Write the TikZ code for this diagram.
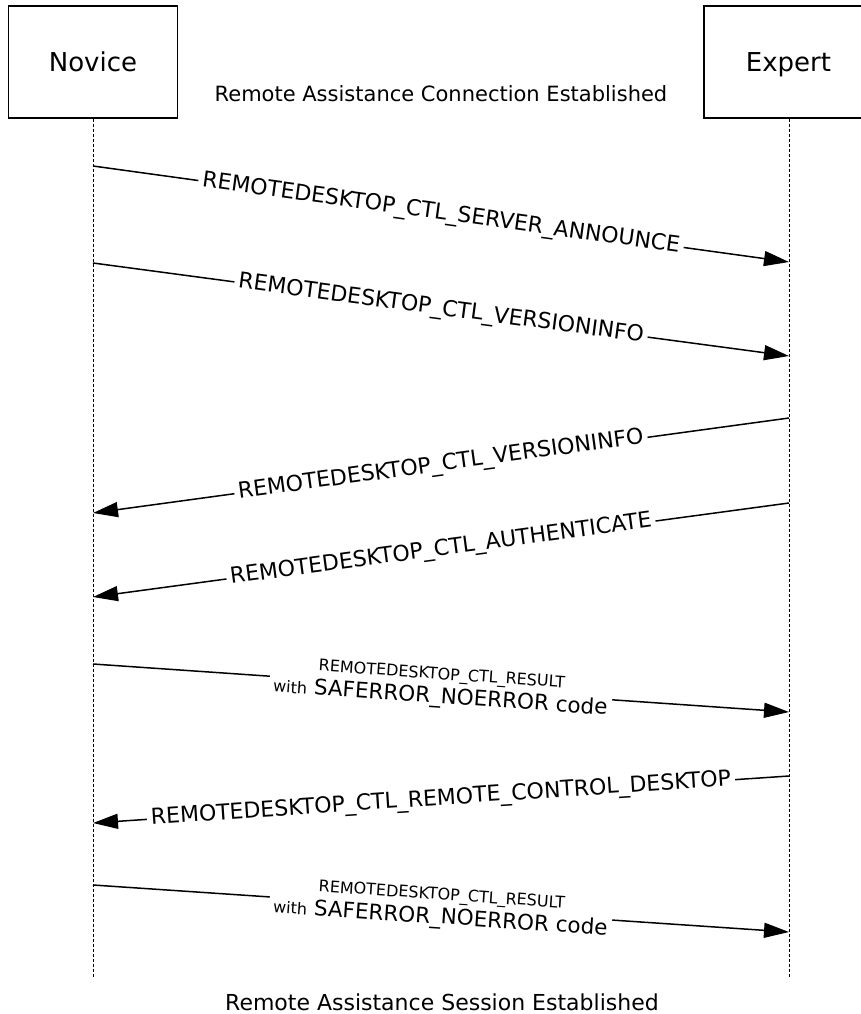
\documentclass[tikz,border=0pt]{standalone}
\usepackage{fontspec}
\setmainfont{DejaVu Sans}
\usetikzlibrary{arrows.meta}
\begin{document}
\begin{tikzpicture}[x=1pt,y=-1pt,
  actor/.style={draw,line width=1.2pt,minimum width=169pt,minimum height=112pt,inner sep=0pt,
    text height=19pt,text depth=0pt,font=\fontsize{26}{30}\selectfont},
  lifeline/.style={line width=1pt,dash pattern=on 3pt off 2pt},
  msg/.style={line width=1.5pt,-{Triangle[length=25pt,width=15pt]}},
  lbl/.style={sloped,fill=white,inner sep=4pt,font=\fontsize{22}{25}\selectfont},
  lbltwo/.style={sloped,fill=white,inner sep=4pt,align=center,font=\fontsize{21.5}{24}\selectfont},
  note/.style={anchor=base,inner sep=0pt,font=\fontsize{21}{24}\selectfont}]
\useasboundingbox (0,0) rectangle (861,1014);
\clip (0,0) rectangle (861,1014);
\fill[white] (0,0) rectangle (861,1014);
\newcommand{\smallfs}{\fontsize{16}{19}\selectfont}

\node[actor] (novice) at (93,62) {Novice};
\node[actor] (expert) at (788.5,62) {Expert};
\node[note] (conn) at (441,102) {Remote Assistance Connection Established};
\node[note,font=\fontsize{22}{25}\selectfont] (sess) at (442,1010) {Remote Assistance Session Established};

\coordinate (nend) at (93,978);
\coordinate (eend) at (789,978);
\draw[lifeline] (novice.south) -- (nend);
\draw[lifeline] (expert.south -| eend) -- (eend);

\coordinate (n1) at (93,166);  \coordinate (e1) at (789,262);
\coordinate (n2) at (93,263);  \coordinate (e2) at (789,356);
\coordinate (e3) at (789,418); \coordinate (n3) at (93,513);
\coordinate (e4) at (789,503); \coordinate (n4) at (93,597);
\coordinate (n5) at (93,664);  \coordinate (e5) at (789,712);
\coordinate (e6) at (789,776); \coordinate (n6) at (93,823);
\coordinate (n7) at (93,885);  \coordinate (e7) at (789,932);

\draw[msg] (n1) -- node[lbl] {REMOTEDESKTOP\_CTL\_SERVER\_ANNOUNCE} (e1);
\draw[msg] (n2) -- node[lbl] {REMOTEDESKTOP\_CTL\_VERSIONINFO} (e2);
\draw[msg] (e3) -- node[lbl] {REMOTEDESKTOP\_CTL\_VERSIONINFO} (n3);
\draw[msg] (e4) -- node[lbl] {REMOTEDESKTOP\_CTL\_AUTHENTICATE} (n4);
\draw[msg] (n5) -- node[lbltwo] {{\smallfs REMOTEDESKTOP\_CTL\_RESULT}\\{\smallfs with} SAFERROR\_NOERROR code} (e5);
\draw[msg] (e6) -- node[lbl] {REMOTEDESKTOP\_CTL\_REMOTE\_CONTROL\_DESKTOP} (n6);
\draw[msg] (n7) -- node[lbltwo] {{\smallfs REMOTEDESKTOP\_CTL\_RESULT}\\{\smallfs with} SAFERROR\_NOERROR code} (e7);
\end{tikzpicture}
\end{document}
